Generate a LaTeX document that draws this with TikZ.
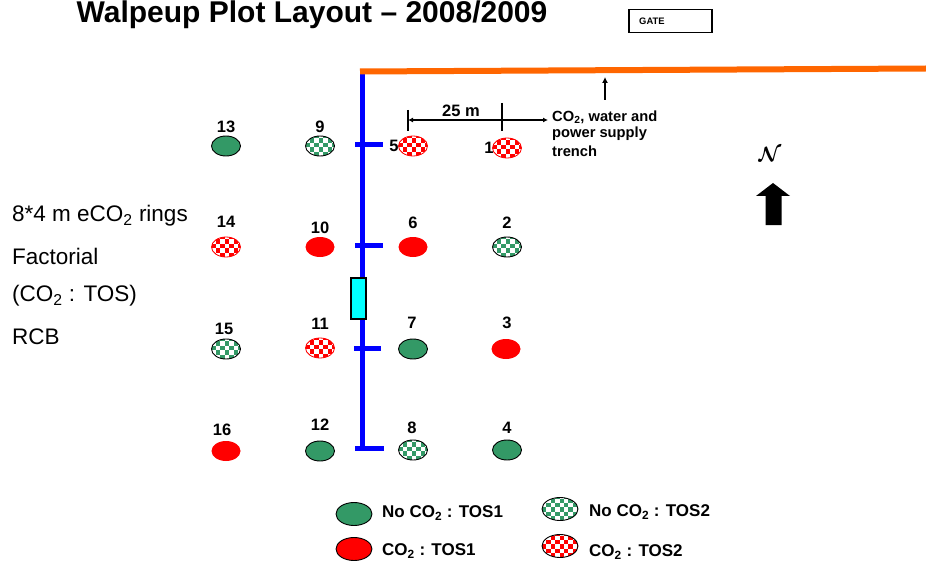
\documentclass[tikz,border=0pt]{standalone}
\usepackage{amsmath}
\usepackage{fontspec}
\setmainfont{Liberation Sans}
\usetikzlibrary{shapes.geometric,calc,arrows.meta}

\definecolor{ringgreen}{RGB}{51,153,102}
\definecolor{trenchorange}{RGB}{255,102,0}
\definecolor{valvecyan}{RGB}{0,255,255}

\tikzset{
  ring/.style={ellipse, inner sep=0pt, minimum width=29pt, minimum height=20pt},
  bigring/.style={minimum width=36pt, minimum height=23pt},
  checker/.style={path picture={
    \foreach \i in {0,...,9}{\foreach \j in {0,...,6}{
      \pgfmathtruncatemacro\k{mod(\i+\j,2)}
      \ifnum\k=0
        \fill[#1] ($(path picture bounding box.south west)+(\i*4.4pt,\j*4.4pt)$) rectangle ++(4.4pt,4.4pt);
      \fi}}}},
  solidgreen/.style={ring, fill=ringgreen, draw=black, line width=0.9pt},
  solidred/.style={ring, fill=red},
  checkgreen/.style={ring, fill=white, draw=black, line width=0.9pt, checker=ringgreen},
  checkred/.style={ring, fill=white, draw=red, line width=0.8pt, checker=red},
  num/.style={font=\bfseries\fontsize{16.5}{16.5}\selectfont, inner sep=0pt},
  sidetext/.style={anchor=west, inner sep=0pt, font=\fontsize{22.5}{22.5}\selectfont},
  legendtext/.style={anchor=west, inner sep=0pt, font=\bfseries\fontsize{17}{17}\selectfont},
  notetext/.style={anchor=west, inner sep=0pt, font=\bfseries\fontsize{14.7}{14.7}\selectfont},
  pipe/.style={blue, line width=5pt},
  dimline/.style={line width=1.1pt},
}

\begin{document}
\begin{tikzpicture}[x=1pt, y=-1pt]
\useasboundingbox (0,0) rectangle (926,564);

% title and gate
\node[font=\bfseries\fontsize{30}{30}\selectfont, inner sep=0pt] (title) at (312,15) {Walpeup Plot Layout -- 2008/2009};
\node[draw, line width=1.2pt, minimum width=83pt, minimum height=23pt, inner sep=0pt] (gate) at (670.5,21) {};
\node[font=\bfseries\fontsize{9.4}{9.4}\selectfont, anchor=west, inner sep=0pt] (gatelabel) at (639,21) {GATE};

% supply pipe with its branches
\coordinate (pipetop) at (362.5,70);
\coordinate (pipebottom) at (362.5,450);
\draw[pipe] (pipetop) -- (pipebottom);
\draw[pipe] (355,145) -- (383,145);
\draw[pipe] (355,245) -- (383,245);
\draw[pipe] (354,348) -- (381,348);
\draw[pipe] (355,448) -- (384,448);
\node[draw, fill=valvecyan, line width=1.2pt, minimum width=15pt, minimum height=41pt, inner sep=0pt] (valve) at (358.5,298.5) {};

% trench along the top
\coordinate (trenchwest) at (360,71.5);
\coordinate (trencheast) at (926,68.5);
\draw[trenchorange, line width=6pt] (trenchwest) -- (trencheast);

% ring spacing
\coordinate (dimA) at (408,120);
\coordinate (dimB) at (548,120);
\draw[dimline] (408,110) -- (408,131);
\draw[dimline] (502,103) -- (502,131);
\draw[dimline, {Latex[length=5pt,width=5pt]}-{Latex[length=5pt,width=5pt]}] (dimA) -- (dimB);
\node[font=\bfseries\fontsize{16.5}{16.5}\selectfont, inner sep=0pt] (dimlabel) at (461,111) {25 m};

% trench note
\coordinate (notefoot) at (605,100);
\coordinate (notetip) at (605,77);
\draw[dimline, -{Latex[length=6pt,width=6pt]}] (notefoot) -- (notetip);
\node[notetext] (note1) at (552,117) {CO\textsubscript{2}, water and};
\node[notetext] (note2) at (552,134) {power supply};
\node[notetext] (note3) at (552,151) {trench};

% north marker
\node[inner sep=0pt, font=\fontsize{21}{21}\selectfont] (north) at (770,154) {$\boldsymbol{\mathcal{N}}$};
\fill (773,183) -- (790,196) -- (781.5,196) -- (781.5,225) -- (765.5,225) -- (765.5,196) -- (756,196) -- cycle;

% design notes
\node[sidetext] (side1) at (12,216) {8*4 m eCO\textsubscript{2} rings};
\node[sidetext] (side2) at (12,256) {Factorial};
\node[sidetext] (side3) at (12,296) {(CO\textsubscript{2} : TOS)};
\node[sidetext] (side4) at (12,337) {RCB};

% rings, row 1
\node[solidgreen] (r13) at (226,146) {};
\node[checkgreen] (r9)  at (320,146) {};
\node[checkred]   (r5)  at (413,146) {};
\node[checkred]   (r1)  at (507,148) {};
\node[num] (n13) at (226,127) {13};
\node[num] (n9)  at (320,127) {9};
\node[num] (n5)  at (394,146) {5};
\node[num] (n1)  at (489,148) {1};

% rings, row 2
\node[checkred]   (r14) at (226,247) {};
\node[solidred]   (r10) at (320,247) {};
\node[solidred]   (r6)  at (413,247) {};
\node[checkgreen] (r2)  at (507,247) {};
\node[num] (n14) at (226,222) {14};
\node[num] (n10) at (320,228) {10};
\node[num] (n6)  at (413,223) {6};
\node[num] (n2)  at (507,223) {2};

% rings, row 3
\node[checkgreen] (r15) at (226,349) {};
\node[checkred]   (r11) at (320,348) {};
\node[solidgreen] (r7)  at (413,349) {};
\node[solidred]   (r3)  at (506,349) {};
\node[num] (n15) at (224,329) {15};
\node[num] (n11) at (320,324) {11};
\node[num] (n7)  at (412,323) {7};
\node[num] (n3)  at (507,323) {3};

% rings, row 4
\node[solidred]   (r16) at (226,451) {};
\node[solidgreen] (r12) at (320,451) {};
\node[checkgreen] (r8)  at (413,450) {};
\node[solidgreen] (r4)  at (507,450) {};
\node[num] (n16) at (222,430) {16};
\node[num] (n12) at (320,425) {12};
\node[num] (n8)  at (412,428) {8};
\node[num] (n4)  at (507,428) {4};

% legend
\node[solidgreen, bigring] (k1) at (354,514) {};
\node[solidred, bigring, draw=black, line width=0.9pt] (k2) at (354,549) {};
\node[checkgreen, bigring] (k3) at (560,509) {};
\node[checkred, bigring, draw=black, line width=0.9pt] (k4) at (560,546) {};
\node[legendtext] (k1t) at (382,513) {No CO\textsubscript{2} : TOS1};
\node[legendtext] (k2t) at (382,551) {CO\textsubscript{2} : TOS1};
\node[legendtext] (k3t) at (589,512) {No CO\textsubscript{2} : TOS2};
\node[legendtext] (k4t) at (589,552) {CO\textsubscript{2} : TOS2};
\end{tikzpicture}
\end{document}
